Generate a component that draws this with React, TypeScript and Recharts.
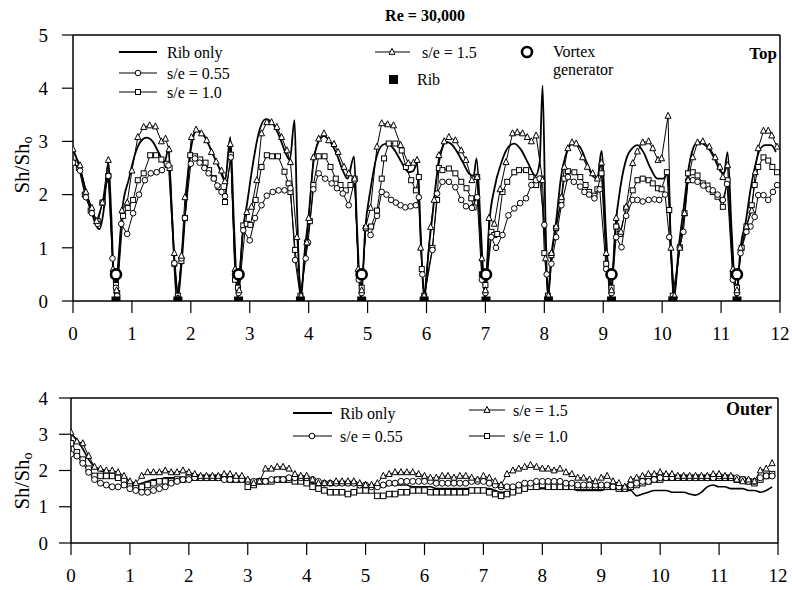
import { ComposedChart, Line, Scatter, XAxis, YAxis, ReferenceLine } from 'recharts';

const FONT = '"Liberation Serif", "DejaVu Serif", serif';

// axis ticks
const xTicks = [0, 1, 2, 3, 4, 5, 6, 7, 8, 9, 10, 11, 12];
const topYTicks = [0, 1, 2, 3, 4, 5];
const outerYTicks = [0, 1, 2, 3, 4];

// rib and vortex generator positions (top wall)
const ribPos = [0.73, 1.78, 2.81, 3.86, 4.9, 5.96, 7.01, 8.07, 9.14, 10.18, 11.27];
const vortexPos = [0.73, 2.81, 4.9, 7.01, 9.14, 11.27];

// Top wall, [position, Sh/Sh0]
const topRibOnly: [number, number][] = [
    [0, 2.85], [0.1, 2.55], [0.2, 2.15], [0.3, 1.75], [0.38, 1.45], [0.45, 1.35], [0.52, 1.7], [0.6, 2.62], [0.65, 1.6], [0.71, 0.05],
    [0.78, 0.9], [0.84, 1.75], [0.95, 2.3], [1.05, 2.75], [1.15, 3.0], [1.25, 3.07], [1.35, 3.0], [1.45, 2.8], [1.55, 2.6], [1.62, 2.85], [1.68, 1.6], [1.77, 0.02],
    [1.85, 0.8], [1.92, 1.9], [2.0, 2.85], [2.1, 3.2], [2.2, 3.15], [2.3, 2.95], [2.4, 2.7], [2.5, 2.45], [2.58, 2.25], [2.67, 3.08], [2.73, 1.5], [2.8, 0.05],
    [2.88, 1.3], [2.95, 1.8], [3.05, 2.55], [3.15, 3.15], [3.27, 3.42], [3.38, 3.35], [3.5, 3.1], [3.62, 2.75], [3.68, 2.65], [3.76, 3.4], [3.8, 1.8], [3.87, 0.05],
    [3.93, 0.9], [4.0, 1.6], [4.08, 2.6], [4.17, 3.0], [4.26, 3.1], [4.36, 3.0], [4.48, 2.75], [4.58, 2.45], [4.66, 2.3], [4.77, 2.72], [4.82, 1.4], [4.89, 0.05],
    [4.96, 1.35], [5.05, 2.1], [5.15, 2.7], [5.25, 2.93], [5.33, 2.96], [5.45, 2.85], [5.57, 2.62], [5.7, 2.42], [5.78, 2.45], [5.84, 2.6], [5.9, 1.3], [5.96, 0.02],
    [6.04, 1.0], [6.1, 1.6], [6.18, 2.4], [6.25, 2.8], [6.33, 2.99], [6.42, 2.95], [6.52, 2.8], [6.62, 2.6], [6.72, 2.4], [6.8, 2.35], [6.85, 2.68], [6.92, 1.4], [7.0, 0.02],
    [7.07, 1.5], [7.15, 2.1], [7.27, 2.6], [7.38, 2.88], [7.49, 2.96], [7.6, 2.85], [7.72, 2.6], [7.85, 2.35], [7.92, 2.6], [7.97, 4.05], [8.02, 1.5], [8.06, 0.02],
    [8.12, 0.85], [8.2, 1.5], [8.28, 2.3], [8.38, 2.8], [8.48, 2.96], [8.6, 2.9], [8.72, 2.6], [8.82, 2.35], [8.9, 2.3], [8.97, 2.82], [9.05, 1.2], [9.13, 0.02],
    [9.2, 1.3], [9.3, 2.2], [9.4, 2.7], [9.5, 2.88], [9.58, 2.93], [9.68, 2.8], [9.8, 2.5], [9.92, 2.3], [10.02, 2.3], [10.1, 2.42], [10.15, 1.0], [10.2, 0.02],
    [10.28, 1.0], [10.36, 1.7], [10.45, 2.5], [10.52, 2.85], [10.6, 2.98], [10.7, 2.95], [10.8, 2.85], [10.9, 2.65], [10.98, 2.45], [11.05, 2.4], [11.11, 2.8], [11.18, 1.3], [11.26, 0.02],
    [11.33, 1.0], [11.42, 1.5], [11.5, 2.1], [11.58, 2.55], [11.66, 2.85], [11.75, 2.93], [11.85, 2.93], [11.93, 2.8],
];

const topS15: [number, number][] = [
    [0, 2.85], [0.12, 2.55], [0.22, 2.05], [0.32, 1.75], [0.4, 1.5], [0.5, 1.85], [0.6, 2.65], [0.68, 0.6], [0.74, 0.2],
    [0.83, 1.7], [0.92, 1.85], [1.0, 2.45], [1.1, 3.08], [1.2, 3.27], [1.3, 3.3], [1.4, 3.28], [1.5, 3.0], [1.57, 3.05], [1.63, 2.85], [1.72, 0.9], [1.78, 0.05],
    [1.84, 0.85], [1.9, 1.95], [2.01, 3.08], [2.09, 3.22], [2.18, 3.15], [2.27, 3.02], [2.35, 2.8], [2.43, 2.62], [2.52, 2.45], [2.58, 2.25], [2.67, 2.95], [2.75, 0.6], [2.82, 0.2],
    [2.95, 1.67], [3.03, 1.77], [3.12, 2.27], [3.2, 3.15], [3.29, 3.36], [3.37, 3.36], [3.46, 3.27], [3.54, 3.08], [3.63, 2.83], [3.69, 2.61], [3.8, 1.2], [3.87, 0.1],
    [3.97, 1.1], [4.0, 1.56], [4.08, 2.7], [4.17, 3.05], [4.26, 3.15], [4.34, 3.02], [4.43, 2.95], [4.5, 2.8], [4.6, 2.52], [4.68, 2.4], [4.78, 2.3], [4.84, 0.6], [4.9, 0.2],
    [4.97, 1.4], [5.05, 1.75], [5.16, 2.9], [5.24, 3.34], [5.34, 3.32], [5.44, 3.3], [5.56, 2.93], [5.69, 2.59], [5.78, 2.6], [5.84, 2.65], [5.9, 1.0], [5.96, 0.1],
    [6.07, 1.39], [6.13, 1.9], [6.21, 2.74], [6.3, 3.0], [6.38, 3.08], [6.49, 3.02], [6.59, 2.83], [6.67, 2.65], [6.77, 2.27], [6.86, 2.33], [6.94, 0.8], [7.0, 0.2],
    [7.06, 1.56], [7.15, 1.45], [7.25, 2.1], [7.35, 2.61], [7.46, 3.15], [7.54, 3.17], [7.63, 3.15], [7.71, 3.08], [7.78, 3.0], [7.86, 3.11], [7.97, 2.27], [8.02, 0.8], [8.07, 0.1],
    [8.12, 0.9], [8.2, 1.4], [8.29, 1.95], [8.34, 2.52], [8.4, 2.87], [8.47, 2.98], [8.54, 2.96], [8.65, 2.7], [8.73, 2.52], [8.82, 2.4], [8.9, 2.3], [8.97, 2.6], [9.05, 0.9], [9.14, 0.2],
    [9.22, 1.56], [9.3, 1.3], [9.39, 1.77], [9.5, 2.59], [9.58, 2.81], [9.67, 2.98], [9.77, 3.0], [9.84, 2.87], [9.93, 2.65], [9.99, 2.68], [10.1, 3.48], [10.15, 1.0], [10.21, 0.1],
    [10.3, 1.0], [10.38, 1.65], [10.44, 2.27], [10.52, 2.7], [10.6, 2.98], [10.69, 3.0], [10.8, 2.9], [10.9, 2.7], [10.98, 2.52], [11.03, 2.33], [11.11, 2.55], [11.2, 0.6], [11.27, 0.2],
    [11.33, 1.0], [11.43, 1.4], [11.52, 1.7], [11.58, 2.42], [11.63, 2.87], [11.72, 3.2], [11.8, 3.2], [11.86, 3.11], [11.95, 2.9],
];

const topS10: [number, number][] = [
    [0, 2.6], [0.1, 2.5], [0.2, 2.0], [0.3, 1.7], [0.42, 1.5], [0.5, 1.85], [0.6, 2.35], [0.68, 0.5], [0.73, 0.3], [0.75, 0.15],
    [0.85, 1.6], [0.93, 1.75], [1.02, 1.9], [1.1, 2.27], [1.2, 2.4], [1.31, 2.74], [1.41, 2.74], [1.5, 2.66], [1.59, 2.58], [1.64, 2.5], [1.72, 0.7], [1.78, 0.1],
    [1.84, 0.75], [1.9, 1.56], [1.99, 2.74], [2.07, 2.72], [2.16, 2.66], [2.25, 2.6], [2.31, 2.46], [2.39, 2.31], [2.47, 2.14], [2.55, 2.05], [2.58, 1.86], [2.68, 2.75], [2.75, 0.4], [2.8, 0.25],
    [2.89, 1.42], [2.95, 1.45], [3.01, 1.43], [3.1, 1.9], [3.2, 2.52], [3.29, 2.74], [3.38, 2.72], [3.48, 2.72], [3.59, 2.43], [3.66, 2.21], [3.69, 2.05], [3.77, 0.96], [3.86, 0.1],
    [3.97, 1.1], [4.02, 1.5], [4.08, 2.18], [4.17, 2.72], [4.27, 2.72], [4.37, 2.52], [4.46, 2.3], [4.54, 2.18], [4.63, 2.08], [4.71, 2.18], [4.78, 2.3], [4.85, 0.5], [4.9, 0.25],
    [4.97, 1.37], [5.06, 1.4], [5.16, 1.7], [5.24, 2.3], [5.28, 2.68], [5.36, 2.96], [5.47, 2.96], [5.58, 2.83], [5.65, 2.52], [5.74, 2.27], [5.82, 2.08], [5.87, 2.33], [5.92, 0.6], [5.96, 0.1],
    [6.1, 1.0], [6.18, 1.9], [6.21, 2.5], [6.27, 2.46], [6.38, 2.49], [6.49, 2.4], [6.59, 2.24], [6.68, 2.12], [6.76, 1.93], [6.8, 1.76], [6.86, 2.33], [6.94, 0.5], [7.0, 0.3],
    [7.1, 1.3], [7.15, 1.24], [7.2, 1.26], [7.29, 2.05], [7.37, 2.24], [7.49, 2.42], [7.57, 2.46], [7.69, 2.46], [7.78, 2.33], [7.86, 2.18], [7.95, 2.3], [8.0, 0.9], [8.06, 0.1],
    [8.12, 0.86], [8.2, 1.37], [8.29, 1.9], [8.34, 2.3], [8.4, 2.44], [8.51, 2.42], [8.61, 2.33], [8.7, 2.18], [8.76, 2.05], [8.85, 1.98], [8.9, 2.1], [8.97, 2.4], [9.05, 0.7], [9.14, 0.25],
    [9.22, 1.4], [9.28, 1.26], [9.39, 1.74], [9.5, 2.08], [9.58, 2.27], [9.67, 2.3], [9.77, 2.27], [9.84, 2.21], [9.93, 2.12], [9.99, 2.1], [10.08, 2.42], [10.12, 1.71], [10.18, 0.1],
    [10.3, 1.01], [10.38, 1.65], [10.44, 2.4], [10.52, 2.42], [10.6, 2.36], [10.69, 2.21], [10.77, 2.17], [10.86, 2.05], [10.94, 1.96], [11.03, 1.77], [11.11, 2.27], [11.2, 0.5], [11.27, 0.25],
    [11.35, 1.0], [11.43, 1.4], [11.52, 1.8], [11.57, 2.18], [11.63, 2.52], [11.72, 2.7], [11.8, 2.64], [11.87, 2.52], [11.95, 2.42],
];

const topS055: [number, number][] = [
    [0, 2.6], [0.12, 2.45], [0.22, 1.95], [0.32, 1.65], [0.42, 1.45], [0.5, 1.85], [0.6, 2.35], [0.67, 0.8], [0.73, 0.25], [0.75, 0.1],
    [0.82, 1.45], [0.92, 1.26], [1.02, 1.65], [1.12, 2.0], [1.22, 2.27], [1.32, 2.4], [1.42, 2.42], [1.51, 2.46], [1.62, 2.55], [1.72, 0.71], [1.78, 0.05],
    [1.84, 0.8], [1.9, 1.56], [2.0, 2.58], [2.07, 2.68], [2.15, 2.6], [2.23, 2.5], [2.3, 2.4], [2.39, 2.3], [2.45, 2.17], [2.52, 2.05], [2.58, 1.97], [2.68, 2.7], [2.75, 0.5], [2.81, 0.15],
    [2.89, 1.33], [3.0, 1.14], [3.09, 1.56], [3.2, 1.8], [3.29, 1.98], [3.39, 2.05], [3.49, 2.08], [3.59, 2.08], [3.69, 2.12], [3.77, 0.77], [3.86, 0.05],
    [3.95, 0.8], [3.99, 1.1], [4.08, 2.1], [4.17, 2.4], [4.28, 2.3], [4.39, 2.21], [4.48, 2.12], [4.58, 2.02], [4.68, 1.8], [4.78, 2.27], [4.85, 0.4], [4.9, 0.15],
    [4.97, 1.37], [5.05, 1.24], [5.16, 1.6], [5.24, 2.05], [5.32, 2.0], [5.4, 1.9], [5.48, 1.85], [5.56, 1.8], [5.64, 1.76], [5.73, 1.78], [5.82, 1.8], [5.87, 1.95], [5.93, 0.5], [5.96, 0.05],
    [6.1, 0.96], [6.18, 2.02], [6.27, 2.24], [6.38, 2.24], [6.49, 2.14], [6.59, 1.9], [6.67, 1.78], [6.77, 1.75], [6.86, 1.95], [6.94, 0.4], [7.0, 0.15],
    [7.1, 1.2], [7.18, 1.0], [7.29, 1.24], [7.39, 1.61], [7.49, 1.74], [7.59, 1.84], [7.69, 1.93], [7.78, 2.18], [7.86, 2.27], [7.92, 2.3], [8.0, 1.43], [8.04, 0.5], [8.07, 0.05],
    [8.12, 0.7], [8.2, 1.2], [8.29, 1.8], [8.4, 2.33], [8.5, 2.24], [8.61, 2.15], [8.68, 2.05], [8.76, 2.0], [8.85, 1.93], [8.94, 2.1], [9.05, 0.6], [9.14, 0.15],
    [9.22, 1.2], [9.31, 1.01], [9.39, 1.6], [9.5, 1.9], [9.58, 1.9], [9.67, 1.87], [9.77, 1.9], [9.87, 1.91], [9.95, 1.9], [10.05, 2.0], [10.12, 1.2], [10.2, 0.05],
    [10.3, 1.01], [10.36, 1.3], [10.44, 2.27], [10.52, 2.27], [10.6, 2.24], [10.7, 2.17], [10.79, 2.1], [10.86, 2.08], [10.94, 2.0], [11.03, 1.9], [11.1, 2.2], [11.2, 0.4], [11.27, 0.15],
    [11.33, 0.9], [11.43, 1.3], [11.5, 1.4], [11.57, 1.58], [11.63, 1.99], [11.72, 1.99], [11.8, 1.9], [11.88, 2.05], [11.95, 2.18],
];

// Outer wall, sampled every 0.1
const outerX = [
    0, 0.1, 0.2, 0.3, 0.4, 0.5, 0.6, 0.7, 0.8, 0.9, 1, 1.1, 1.2, 1.3, 1.4, 1.5, 1.6, 1.7, 1.8, 1.9,
    2, 2.1, 2.2, 2.3, 2.4, 2.5, 2.6, 2.7, 2.8, 2.9, 3, 3.1, 3.2, 3.3, 3.4, 3.5, 3.6, 3.7, 3.8, 3.9,
    4, 4.1, 4.2, 4.3, 4.4, 4.5, 4.6, 4.7, 4.8, 4.9, 5, 5.1, 5.2, 5.3, 5.4, 5.5, 5.6, 5.7, 5.8, 5.9,
    6, 6.1, 6.2, 6.3, 6.4, 6.5, 6.6, 6.7, 6.8, 6.9, 7, 7.1, 7.2, 7.3, 7.4, 7.5, 7.6, 7.7, 7.8, 7.9,
    8, 8.1, 8.2, 8.3, 8.4, 8.5, 8.6, 8.7, 8.8, 8.9, 9, 9.1, 9.2, 9.3, 9.4, 9.5, 9.6, 9.7, 9.8, 9.9,
    10, 10.1, 10.2, 10.3, 10.4, 10.5, 10.6, 10.7, 10.8, 10.9, 11, 11.1, 11.2, 11.3, 11.4, 11.5, 11.6, 11.7, 11.8, 11.9,
];
const outerRibOnly = [
    3.0, 2.85, 2.6, 2.3, 2.1, 2.0, 1.95, 1.9, 1.85, 1.8, 1.7, 1.6, 1.65, 1.7, 1.75, 1.75, 1.8, 1.8, 1.8, 1.8,
    1.8, 1.8, 1.85, 1.85, 1.85, 1.85, 1.85, 1.8, 1.8, 1.8, 1.75, 1.7, 1.7, 1.7, 1.7, 1.7, 1.7, 1.7, 1.75, 1.75,
    1.7, 1.65, 1.6, 1.6, 1.6, 1.6, 1.6, 1.6, 1.6, 1.6, 1.55, 1.55, 1.55, 1.55, 1.6, 1.6, 1.6, 1.6, 1.55, 1.55,
    1.55, 1.55, 1.5, 1.5, 1.5, 1.5, 1.5, 1.5, 1.5, 1.5, 1.5, 1.5, 1.45, 1.4, 1.4, 1.45, 1.5, 1.5, 1.5, 1.5,
    1.5, 1.5, 1.5, 1.5, 1.5, 1.5, 1.45, 1.45, 1.45, 1.45, 1.45, 1.5, 1.5, 1.45, 1.45, 1.45, 1.3, 1.35, 1.4, 1.45,
    1.45, 1.45, 1.4, 1.4, 1.4, 1.35, 1.32, 1.4, 1.55, 1.6, 1.55, 1.55, 1.5, 1.5, 1.5, 1.45, 1.45, 1.4, 1.45, 1.55,
];
const outerS055 = [
    2.45, 2.4, 2.2, 1.95, 1.75, 1.65, 1.6, 1.55, 1.55, 1.6, 1.5, 1.45, 1.4, 1.4, 1.45, 1.5, 1.55, 1.65, 1.7, 1.75,
    1.75, 1.8, 1.8, 1.8, 1.8, 1.8, 1.75, 1.75, 1.75, 1.75, 1.7, 1.7, 1.7, 1.7, 1.75, 1.75, 1.75, 1.8, 1.8, 1.8,
    1.8, 1.75, 1.7, 1.65, 1.65, 1.65, 1.65, 1.65, 1.65, 1.6, 1.6, 1.55, 1.55, 1.6, 1.65, 1.65, 1.7, 1.7, 1.7, 1.7,
    1.7, 1.7, 1.65, 1.65, 1.65, 1.65, 1.65, 1.65, 1.7, 1.7, 1.7, 1.65, 1.6, 1.55, 1.55, 1.55, 1.6, 1.65, 1.65, 1.7,
    1.7, 1.7, 1.7, 1.7, 1.65, 1.65, 1.6, 1.6, 1.6, 1.6, 1.6, 1.6, 1.55, 1.55, 1.5, 1.6, 1.65, 1.7, 1.7, 1.75,
    1.8, 1.8, 1.8, 1.8, 1.8, 1.8, 1.8, 1.8, 1.8, 1.8, 1.85, 1.8, 1.8, 1.8, 1.75, 1.7, 1.7, 1.8, 1.85, 1.85,
];
const outerS10 = [
    2.75, 2.5, 2.3, 2.05, 1.85, 1.85, 1.85, 1.85, 1.8, 1.75, 1.6, 1.55, 1.55, 1.6, 1.65, 1.7, 1.7, 1.7, 1.75, 1.75,
    1.8, 1.8, 1.8, 1.8, 1.8, 1.8, 1.8, 1.75, 1.75, 1.75, 1.55, 1.6, 1.7, 1.7, 1.7, 1.75, 1.75, 1.75, 1.7, 1.7,
    1.65, 1.55, 1.5, 1.45, 1.4, 1.4, 1.4, 1.35, 1.4, 1.45, 1.45, 1.45, 1.3, 1.3, 1.35, 1.35, 1.4, 1.4, 1.45, 1.45,
    1.45, 1.4, 1.4, 1.4, 1.4, 1.4, 1.4, 1.4, 1.45, 1.45, 1.45, 1.4, 1.35, 1.3, 1.35, 1.4, 1.45, 1.5, 1.55, 1.55,
    1.6, 1.55, 1.55, 1.55, 1.55, 1.55, 1.55, 1.55, 1.55, 1.55, 1.55, 1.55, 1.55, 1.5, 1.5, 1.55, 1.6, 1.65, 1.7, 1.75,
    1.75, 1.8, 1.8, 1.8, 1.8, 1.8, 1.8, 1.8, 1.8, 1.8, 1.8, 1.8, 1.8, 1.75, 1.75, 1.7, 1.65, 1.75, 1.85, 1.9,
];
const outerS15 = [
    3.05, 2.8, 2.75, 2.4, 2.1, 2.05, 2.0, 2.0, 1.95, 1.85, 1.7, 1.65, 1.85, 1.95, 1.95, 1.95, 2.0, 1.95, 1.95, 2.0,
    1.95, 1.9, 1.85, 1.85, 1.85, 1.85, 1.9, 1.9, 1.85, 1.85, 1.75, 1.65, 1.7, 2.05, 2.05, 2.1, 2.1, 2.05, 1.9, 1.85,
    1.85, 1.75, 1.65, 1.65, 1.65, 1.7, 1.7, 1.7, 1.7, 1.65, 1.6, 1.6, 1.65, 1.85, 1.9, 1.95, 1.95, 1.95, 1.95, 1.9,
    1.85, 1.8, 1.8, 1.85, 1.85, 1.8, 1.85, 1.85, 1.8, 1.75, 1.85, 1.8, 1.7, 1.6, 1.9, 2.0, 2.05, 2.1, 2.15, 2.1,
    2.05, 2.05, 2.0, 2.05, 1.95, 1.9, 1.8, 1.8, 1.75, 1.7, 1.8, 1.85, 1.7, 1.65, 1.55, 1.75, 1.8, 1.85, 1.9, 1.9,
    1.95, 1.9, 1.9, 1.85, 1.85, 1.85, 1.85, 1.85, 1.85, 1.9, 1.9, 1.85, 1.85, 1.75, 1.7, 1.75, 1.7, 2.0, 2.05, 2.2,
];

const pairs = (arr: [number, number][]) => arr.map(([x, y]) => ({ x, y }));
const sampled = (ys: number[]) => outerX.map((x, i) => ({ x, y: ys[i] }));

const circleDot = (r: number) => (p: any) =>
    p.cx == null ? <g key={`c${p.index}`} /> :
    <circle key={`c${p.index}`} cx={p.cx} cy={p.cy} r={r} fill="#fff" stroke="#000" strokeWidth={1} />;
const squareDot = (s: number) => (p: any) =>
    p.cx == null ? <g key={`s${p.index}`} /> :
    <rect key={`s${p.index}`} x={p.cx - s / 2} y={p.cy - s / 2} width={s} height={s} fill="#fff" stroke="#000" strokeWidth={1} />;
const triPath = (cx: number, cy: number, s: number) =>
    `M${cx},${cy - s * 0.6}L${cx + s / 2},${cy + s * 0.4}L${cx - s / 2},${cy + s * 0.4}Z`;
const triDot = (s: number) => (p: any) =>
    p.cx == null ? <g key={`t${p.index}`} /> :
    <path key={`t${p.index}`} d={triPath(p.cx, p.cy, s)} fill="#fff" stroke="#000" strokeWidth={1} />;

const tickStyle = { fill: '#000', fontSize: 19, style: { fontFamily: FONT } };
const axisLine = { stroke: '#000', strokeWidth: 1.5 };
const tickLine = { stroke: '#000', strokeWidth: 1.2 };

const TopChart = () => (
    <ComposedChart width={792} height={345} margin={{ top: 35, right: 12, left: 0, bottom: 14 }}>
        <XAxis dataKey="x" type="number" domain={[0, 12]} ticks={xTicks} interval={0} allowDataOverflow
            height={30} tickSize={12} tickMargin={14} axisLine={axisLine} tickLine={tickLine} tick={tickStyle} />
        <YAxis type="number" domain={[0, 5]} ticks={topYTicks} interval={0} allowDataOverflow
            width={73} tickSize={11} tickMargin={14} axisLine={axisLine} tickLine={tickLine} tick={tickStyle} />
        <ReferenceLine y={5} stroke="#000" strokeWidth={1.5} />
        <ReferenceLine x={12} stroke="#000" strokeWidth={1.5} />
        <Line data={pairs(topRibOnly)} dataKey="y" type="monotone" stroke="#000" strokeWidth={1.8} dot={false} isAnimationActive={false} />
        <Line data={pairs(topS10)} dataKey="y" type="linear" stroke="#000" strokeWidth={1} dot={squareDot(5)} isAnimationActive={false} />
        <Line data={pairs(topS055)} dataKey="y" type="linear" stroke="#000" strokeWidth={1} dot={circleDot(2.8)} isAnimationActive={false} />
        <Line data={pairs(topS15)} dataKey="y" type="linear" stroke="#000" strokeWidth={1} dot={triDot(6)} isAnimationActive={false} />
        <Scatter data={ribPos.map((x) => ({ x, y: 0 }))} dataKey="y" isAnimationActive={false}
            shape={(p: any) => <rect x={p.cx - 4.5} y={p.cy - 4.5} width={9} height={9} fill="#000" />} />
        <Scatter data={vortexPos.map((x) => ({ x, y: 0.5 }))} dataKey="y" isAnimationActive={false}
            shape={(p: any) => <circle cx={p.cx} cy={p.cy} r={5} fill="#fff" stroke="#000" strokeWidth={2.6} />} />
    </ComposedChart>
);

const OuterChart = () => (
    <ComposedChart width={792} height={230} margin={{ top: 38, right: 14, left: 0, bottom: 17 }}>
        <XAxis dataKey="x" type="number" domain={[0, 12]} ticks={xTicks} interval={0} allowDataOverflow
            height={30} tickSize={12} tickMargin={14} axisLine={axisLine} tickLine={tickLine} tick={tickStyle} />
        <YAxis type="number" domain={[0, 4]} ticks={outerYTicks} interval={0} allowDataOverflow
            width={71} tickSize={12} tickMargin={11} axisLine={axisLine} tickLine={tickLine} tick={tickStyle} />
        <ReferenceLine y={4} stroke="#000" strokeWidth={1.5} />
        <ReferenceLine x={12} stroke="#000" strokeWidth={1.5} />
        <Line data={sampled(outerRibOnly)} dataKey="y" type="monotone" stroke="#000" strokeWidth={1.6} dot={false} isAnimationActive={false} />
        <Line data={sampled(outerS10)} dataKey="y" type="linear" stroke="#000" strokeWidth={1} dot={squareDot(5.5)} isAnimationActive={false} />
        <Line data={sampled(outerS055)} dataKey="y" type="linear" stroke="#000" strokeWidth={1} dot={circleDot(3)} isAnimationActive={false} />
        <Line data={sampled(outerS15)} dataKey="y" type="linear" stroke="#000" strokeWidth={1} dot={triDot(6)} isAnimationActive={false} />
    </ComposedChart>
);

const txt = { fill: '#000', dominantBaseline: 'central' as const, style: { fontFamily: FONT } };

const Overlay = () => (
    <svg width={792} height={590} style={{ position: 'absolute', left: 0, top: 0, pointerEvents: 'none' }}>
        <text x={425} y={15} textAnchor="middle" fontSize={16} fontWeight="bold" {...txt}>Re = 30,000</text>

        <text transform="rotate(-90 22 165)" x={22} y={165} textAnchor="middle" fontSize={21} {...txt}>
            Sh/Sh<tspan fontSize={14} dy={5}>o</tspan>
        </text>
        <text transform="rotate(-90 22 481)" x={22} y={481} textAnchor="middle" fontSize={21} {...txt}>
            Sh/Sh<tspan fontSize={14} dy={5}>o</tspan>
        </text>

        {/* top legend */}
        <line x1={119} y1={52} x2={157} y2={52} stroke="#000" strokeWidth={1.8} />
        <text x={167} y={52} fontSize={16} {...txt}>Rib only</text>
        <line x1={119} y1={73} x2={157} y2={73} stroke="#000" strokeWidth={1} />
        <circle cx={138} cy={73} r={2.8} fill="#fff" stroke="#000" />
        <text x={167} y={73} fontSize={16} {...txt}>s/e = 0.55</text>
        <line x1={119} y1={92} x2={157} y2={92} stroke="#000" strokeWidth={1} />
        <rect x={135.5} y={89.5} width={5} height={5} fill="#fff" stroke="#000" />
        <text x={167} y={92} fontSize={16} {...txt}>s/e = 1.0</text>
        <line x1={375} y1={52} x2={410} y2={52} stroke="#000" strokeWidth={1} />
        <path d={triPath(392, 52, 6)} fill="#fff" stroke="#000" />
        <text x={422} y={52} fontSize={16} {...txt}>s/e = 1.5</text>
        <rect x={389} y={75} width={9} height={9} fill="#000" />
        <text x={417} y={79} fontSize={16} {...txt}>Rib</text>
        <circle cx={527} cy={52} r={5} fill="#fff" stroke="#000" strokeWidth={2.6} />
        <text x={553} y={51} fontSize={16} {...txt}>Vortex</text>
        <text x={553} y={69} fontSize={16} {...txt}>generator</text>
        <text x={777} y={53} textAnchor="end" fontSize={17} fontWeight="bold" {...txt}>Top</text>

        {/* outer legend */}
        <line x1={293} y1={413} x2={332} y2={413} stroke="#000" strokeWidth={1.8} />
        <text x={340} y={413} fontSize={16} {...txt}>Rib only</text>
        <line x1={293} y1={436} x2={332} y2={436} stroke="#000" strokeWidth={1} />
        <circle cx={312} cy={436} r={2.8} fill="#fff" stroke="#000" />
        <text x={340} y={436} fontSize={16} {...txt}>s/e = 0.55</text>
        <line x1={469} y1={410} x2={505} y2={410} stroke="#000" strokeWidth={1} />
        <path d={triPath(487, 410, 6)} fill="#fff" stroke="#000" />
        <text x={513} y={410} fontSize={16} {...txt}>s/e = 1.5</text>
        <line x1={469} y1={436} x2={505} y2={436} stroke="#000" strokeWidth={1} />
        <rect x={484.5} y={433.5} width={5} height={5} fill="#fff" stroke="#000" />
        <text x={513} y={436} fontSize={16} {...txt}>s/e = 1.0</text>
        <text x={772} y={409} textAnchor="end" fontSize={18} fontWeight="bold" {...txt}>Outer</text>
    </svg>
);

const App = () => (
    <div style={{ position: 'absolute', left: 0, top: 0, width: 792, height: 590, background: '#fff', fontFamily: FONT }}>
        <div style={{ position: 'absolute', left: 0, top: 0 }}>
            <TopChart />
        </div>
        <div style={{ position: 'absolute', left: 0, top: 360 }}>
            <OuterChart />
        </div>
        <Overlay />
    </div>
);

export default App;
